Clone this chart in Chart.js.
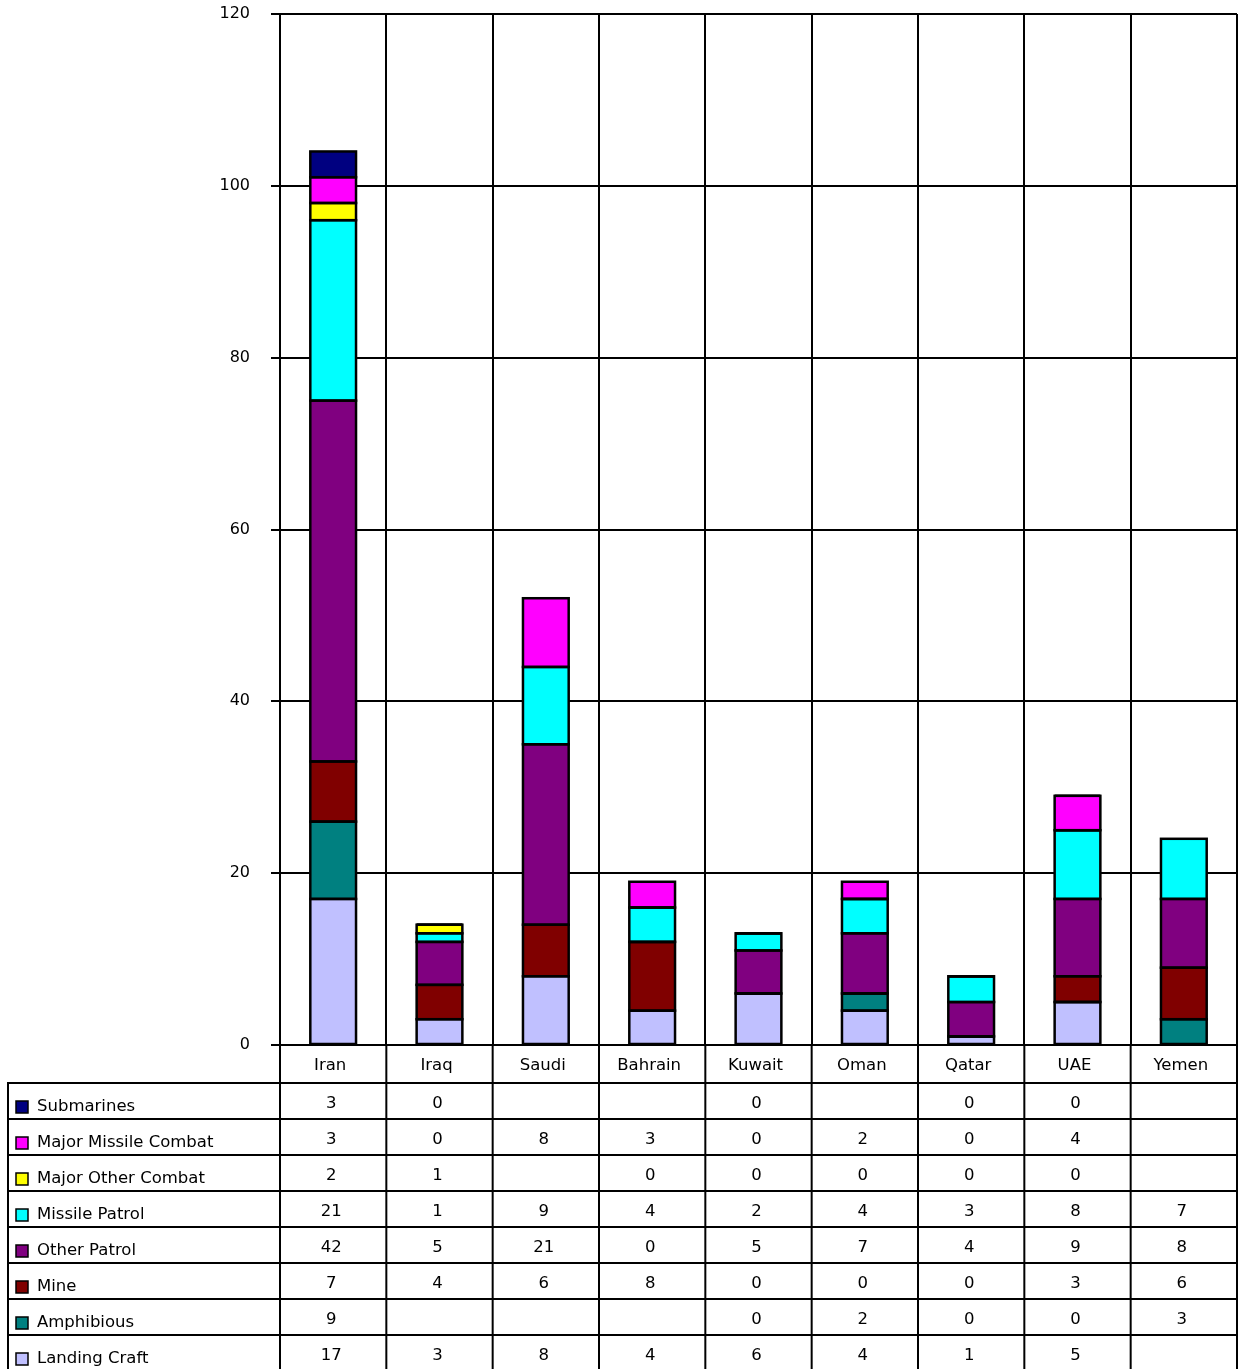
<!DOCTYPE html>
<html>
<head>
<meta charset="utf-8">
<script src="https://cdn.jsdelivr.net/npm/chart.js@4"></script>
<style>
  body { margin: 0; background: #fff; }
  #wrap { width: 1238px; height: 1369px; }
</style>
</head>
<body>
<div id="wrap"><canvas id="navyChart" width="1238" height="1369"></canvas></div>
<script>
// ====== DATA ======
const countries = ['Iran', 'Iraq', 'Saudi', 'Bahrain', 'Kuwait', 'Oman', 'Qatar', 'UAE', 'Yemen'];
const yTicks = [0, 20, 40, 60, 80, 100, 120];

// null = blank cell in the table
const landingCraft       = [17, 3, 8, 4, 6, 4, 1, 5, null];
const amphibious         = [9, null, null, null, 0, 2, 0, 0, 3];
const mine               = [7, 4, 6, 8, 0, 0, 0, 3, 6];
const otherPatrol        = [42, 5, 21, 0, 5, 7, 4, 9, 8];
const missilePatrol      = [21, 1, 9, 4, 2, 4, 3, 8, 7];
const majorOtherCombat   = [2, 1, null, 0, 0, 0, 0, 0, null];
const majorMissileCombat = [3, 0, 8, 3, 0, 2, 0, 4, null];
const submarines         = [3, 0, null, null, 0, null, 0, 0, null];

// bottom of the stack first
const series = [
  { label: 'Landing Craft', data: landingCraft, color: '#C0C0FF' },
  { label: 'Amphibious', data: amphibious, color: '#008080' },
  { label: 'Mine', data: mine, color: '#800000' },
  { label: 'Other Patrol', data: otherPatrol, color: '#800080' },
  { label: 'Missile Patrol', data: missilePatrol, color: '#00FFFF' },
  { label: 'Major Other Combat', data: majorOtherCombat, color: '#FFFF00' },
  { label: 'Major Missile Combat', data: majorMissileCombat, color: '#FF00FF' },
  { label: 'Submarines', data: submarines, color: '#000080' }
];

const FONT = '"DejaVu Sans", Verdana, sans-serif';

// ====== BAR OUTLINES (shared seams like the original) ======
const barOutlines = {
  id: 'barOutlines',
  afterDatasetsDraw(chart) {
    const ctx = chart.ctx;
    ctx.save();
    ctx.strokeStyle = '#000';
    ctx.lineWidth = 2.5;
    chart.data.datasets.forEach((ds, i) => {
      chart.getDatasetMeta(i).data.forEach((bar, j) => {
        if (ds.data[j] === null) return;
        const { x, y, base, width } = bar.getProps(['x', 'y', 'base', 'width'], true);
        ctx.strokeRect(x - width / 2, y, width, base - y);
      });
    });
    ctx.restore();
  }
};

// ====== DATA TABLE PLUGIN ======
const dataTable = {
  id: 'dataTable',
  afterDraw(chart) {
    const { ctx, chartArea, scales } = chart;
    const x = scales.x;
    const top = chartArea.bottom;
    const labelRowH = 38;
    const rowH = 36;
    const tableLeft = 8;
    const right = chartArea.right;
    const rowsTop = top + labelRowH;
    const bottom = chart.height + 2;

    // column boundaries from the category scale
    const half = (x.getPixelForValue(1) - x.getPixelForValue(0)) / 2;
    const bounds = countries.map((c, i) => x.getPixelForValue(i) - half);
    bounds.push(x.getPixelForValue(countries.length - 1) + half);

    ctx.save();
    ctx.strokeStyle = '#000';
    ctx.lineWidth = 2;
    ctx.beginPath();
    bounds.forEach(b => { ctx.moveTo(b, top); ctx.lineTo(b, bottom); });
    ctx.moveTo(tableLeft, rowsTop); ctx.lineTo(tableLeft, bottom);
    for (let r = 0; r < series.length; r++) {
      const y = rowsTop + r * rowH;
      ctx.moveTo(tableLeft - 1, y); ctx.lineTo(right + 1, y);
    }
    ctx.stroke();

    ctx.font = '16.5px ' + FONT;
    ctx.fillStyle = '#000';
    ctx.textBaseline = 'middle';
    ctx.textAlign = 'center';
    countries.forEach((c, i) => ctx.fillText(c, x.getPixelForValue(i) - 3, top + 21));

    // rows: top of stack first
    const rows = series.slice().reverse();
    rows.forEach((s, r) => {
      const yTop = rowsTop + r * rowH;
      ctx.fillStyle = s.color;
      ctx.fillRect(16, yTop + 18, 12, 12);
      ctx.lineWidth = 1.5;
      ctx.strokeRect(16, yTop + 18, 12, 12);
      ctx.fillStyle = '#000';
      ctx.textAlign = 'left';
      ctx.fillText(s.label, 37, yTop + 24);
      ctx.textAlign = 'center';
      s.data.forEach((v, i) => {
        if (v !== null) ctx.fillText(String(v), x.getPixelForValue(i) - 2, yTop + 21);
      });
    });
    ctx.restore();
  }
};

// ====== CHART ======
const ctx = document.getElementById('navyChart').getContext('2d');

new Chart(ctx, {
  type: 'bar',
  data: {
    labels: countries,
    datasets: series.map(s => ({
      label: s.label,
      data: s.data,
      backgroundColor: s.color,
      borderWidth: 0,
      inflateAmount: 0,
      barPercentage: 0.43,
      categoryPercentage: 1
    }))
  },
  options: {
    responsive: false,
    animation: false,
    layout: { padding: { top: 14, right: 1, left: 0, bottom: 0 } },
    plugins: {
      legend: { display: false },
      tooltip: { enabled: false }
    },
    scales: {
      x: {
        stacked: true,
        ticks: { display: false },
        grid: { color: '#000', lineWidth: 2, offset: true, drawTicks: false },
        border: { display: true, color: '#000', width: 2 },
        afterFit: s => { s.height = 324; }
      },
      y: {
        stacked: true,
        min: 0,
        max: 120,
        afterBuildTicks: s => { s.ticks = yTicks.map(v => ({ value: v })); },
        ticks: { color: '#000', font: { family: FONT, size: 16 }, padding: 21 },
        grid: { color: '#000', lineWidth: 2, tickLength: 9 },
        border: { display: true, color: '#000', width: 2 },
        afterFit: s => { s.width = 280; s.paddingTop = 0; s.paddingBottom = 0; }
      }
    }
  },
  plugins: [barOutlines, dataTable]
});
</script>
</body>
</html>
